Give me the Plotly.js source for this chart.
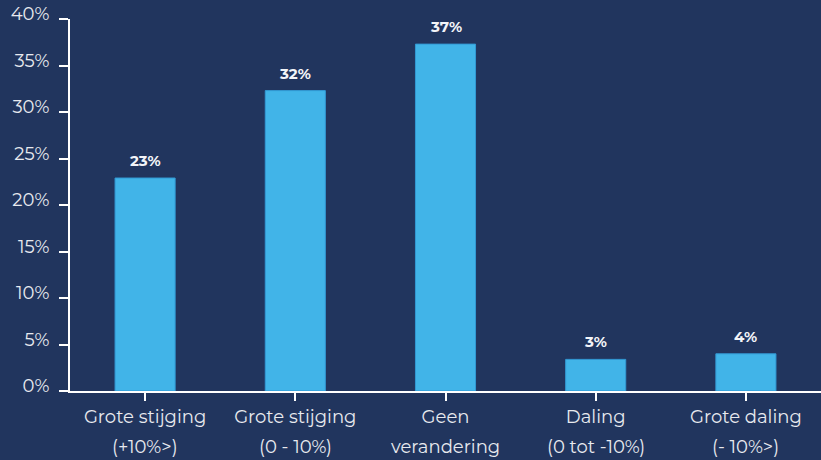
<!DOCTYPE html>
<html>
<head>
<meta charset="utf-8">
<script src="https://cdn.plot.ly/plotly-3.0.1.min.js"></script>
<style>html,body{margin:0;padding:0;background:#21355e;}#chart{width:821px;height:460px;}</style>
</head>
<body>
<div id="chart"></div>
<script>
const categories = ["Grote stijging", "Grote stijging", "Geen", "Daling", "Grote daling"];
const subLabels = ["(+10%>)", "(0 - 10%)", "verandering", "(0 tot -10%)", "(- 10%>)"];
const values = [22.9, 32.3, 37.3, 3.4, 4.0];
const valueLabels = ["23%", "32%", "37%", "3%", "4%"];
const yTicks = [0, 5, 10, 15, 20, 25, 30, 35, 40];
const yTickLabels = ["0%", "5%", "10%", "15%", "20%", "25%", "30%", "35%", "40%"];

const idx = categories.map((_, i) => i);
const font = "Montserrat, 'Open Sans', 'Noto Sans', sans-serif";

const trace = {
  type: "bar",
  x: idx,
  y: values,
  width: 0.4,
  marker: {color: "#41b4e8", line: {color: "#3299d4", width: 1}},
  hoverinfo: "none"
};

const subAnnotations = subLabels.map((t, i) => ({
  x: i, y: 0, xref: "x", yref: "y",
  text: t, showarrow: false,
  yanchor: "top", yshift: -43,
  font: {family: font, size: 18, color: "#e8eaef"}
}));

const valueAnnotations = valueLabels.map((t, i) => ({
  x: i, y: values[i], xref: "x", yref: "y",
  text: t, showarrow: false,
  yanchor: "bottom", yshift: 6,
  font: {family: font, size: 15, color: "#f2f4f8", weight: "bold"}
}));

const layout = {
  width: 821, height: 460,
  paper_bgcolor: "#21355e",
  plot_bgcolor: "#21355e",
  margin: {l: 70, r: 0, t: 19, b: 69},
  showlegend: false,
  xaxis: {
    tickmode: "array",
    tickvals: idx,
    ticktext: categories,
    range: [-0.5, 4.5],
    tickson: "boundaries",
    ticks: "outside",
    ticklen: 8,
    tickwidth: 2,
    tickcolor: "#ffffff",
    showline: true,
    linecolor: "#ffffff",
    linewidth: 2,
    showgrid: false,
    zeroline: false,
    fixedrange: true,
    tickfont: {family: font, size: 18, color: "#e8eaef"}
  },
  yaxis: {
    range: [0, 40],
    tickmode: "array",
    tickvals: yTicks,
    ticktext: yTickLabels,
    ticks: "outside",
    ticklen: 9,
    tickwidth: 2,
    tickcolor: "#ffffff",
    showline: true,
    linecolor: "#ffffff",
    linewidth: 2,
    showgrid: false,
    zeroline: false,
    fixedrange: true,
    ticklabelstandoff: 6,
    ticklabelshift: -5,
    tickfont: {family: font, size: 18, color: "#e8eaef"}
  },
  annotations: subAnnotations.concat(valueAnnotations)
};

Plotly.newPlot("chart", [trace], layout, {displayModeBar: false, staticPlot: true});
</script>
</body>
</html>
